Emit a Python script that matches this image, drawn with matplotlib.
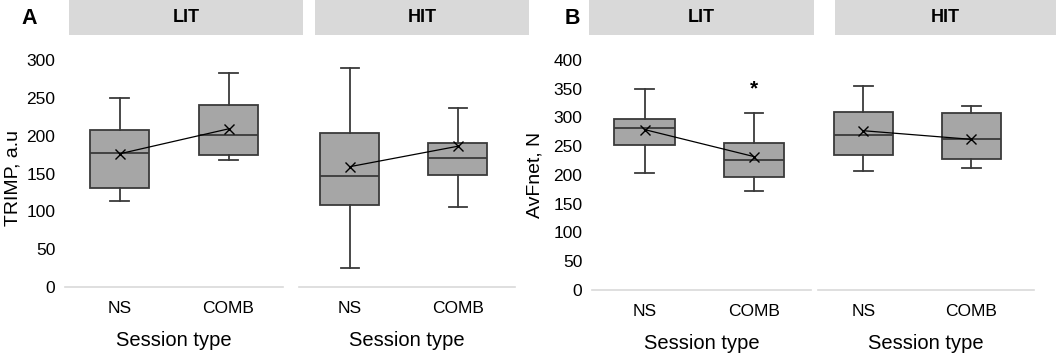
import matplotlib.pyplot as plt
from matplotlib.patches import Rectangle

plt.rcParams['font.family'] = ['Liberation Sans', 'DejaVu Sans']

# session types on x axis
sessions = ['NS', 'COMB']

# box summaries: [whislo, q1, median, q3, whishi]
trimp_lit = [[113, 131, 177, 208, 250], [168, 174, 201, 240, 283]]
trimp_hit = [[25, 108, 147, 203, 290], [106, 148, 171, 190, 237]]
trimp_lit_mean = [176, 209]
trimp_hit_mean = [159, 186]

force_lit = [[203, 252, 281, 297, 350], [173, 197, 226, 255, 307]]
force_hit = [[207, 235, 270, 310, 355], [212, 227, 262, 307, 320]]
force_lit_mean = [279, 232]
force_hit_mean = [277, 262]
force_star_y = 350

W, H = 1056, 354
fig = plt.figure(figsize=(W / 100, H / 100), dpi=100)


def px_axes(x0, x1, ytop, ybot):
    return fig.add_axes([x0 / W, 1 - ybot / H, (x1 - x0) / W, (ybot - ytop) / H])


def draw_panel(ax, boxes, means, ymax, ystep, show_y, xshift=0.0):
    stats = []
    for b, m in zip(boxes, means):
        stats.append(dict(whislo=b[0], q1=b[1], med=b[2], q3=b[3], whishi=b[4], mean=m))
    ax.bxp(stats, positions=[0, 1], widths=0.55, patch_artist=True, showfliers=False,
           boxprops=dict(facecolor='#a6a6a6', edgecolor='#3a3a3a', linewidth=1.3),
           medianprops=dict(color='#3a3a3a', linewidth=1.3),
           whiskerprops=dict(color='#3a3a3a', linewidth=1.3),
           capprops=dict(color='#3a3a3a', linewidth=1.3),
           capwidths=0.17)
    ax.plot([0, 1], means, color='black', linewidth=0.9, marker='x',
            markersize=7, markeredgewidth=1.0, zorder=5)
    ax.set_xlim(-0.5 + xshift, 1.5 + xshift)
    ax.set_ylim(0, ymax)
    ax.set_xticks([0, 1])
    ax.set_xticklabels(sessions, fontsize=12.5)
    ax.set_yticks(range(0, ymax + 1, ystep))
    ax.tick_params(axis='y', length=0, pad=7, labelsize=12.5)
    ax.tick_params(axis='x', length=0, pad=10)
    if not show_y:
        ax.set_yticklabels([])
    for s in ['top', 'right', 'left']:
        ax.spines[s].set_visible(False)
    ax.spines['bottom'].set_color('#d9d9d9')
    ax.spines['bottom'].set_linewidth(1.2)
    ax.set_xlabel('Session type', fontsize=14.5, labelpad=11)


axA1 = px_axes(65, 283, 60, 287)
draw_panel(axA1, trimp_lit, trimp_lit_mean, 300, 50, True)
axA1.set_ylabel('TRIMP, a.u', fontsize=14)
axA1.yaxis.set_label_coords((22 - 65) / 218, 0.48)

axA2 = px_axes(299, 515, 60, 287)
draw_panel(axA2, trimp_hit, trimp_hit_mean, 300, 50, False, 0.03)

axB1 = px_axes(592, 811, 60, 290)
draw_panel(axB1, force_lit, force_lit_mean, 400, 50, True, 0.02)
axB1.set_ylabel('AvFnet, N', fontsize=14)
axB1.yaxis.set_label_coords((544 - 592) / 219, 0.5)
axB1.text(1, force_star_y, '*', ha='center', va='center', fontsize=15, fontweight='bold')

axB2 = px_axes(818, 1034, 60, 290)
draw_panel(axB2, force_hit, force_hit_mean, 400, 50, False, 0.08)

# header strips
strips = [(69, 303, 'LIT'), (315, 529, 'HIT'), (589, 814, 'LIT'), (835, 1056, 'HIT')]
for x0, x1, lab in strips:
    fig.patches.append(Rectangle((x0 / W, 1 - 35 / H), (x1 - x0) / W, 35 / H,
                                 transform=fig.transFigure, facecolor='#d9d9d9',
                                 edgecolor='none'))
    fig.text((x0 + x1) / 2 / W, 1 - 18 / H, lab, ha='center', va='center',
             fontsize=13, fontweight='bold')

fig.text(29 / W, 1 - 19 / H, 'A', ha='center', va='center', fontsize=15.5, fontweight='bold')
fig.text(572 / W, 1 - 19 / H, 'B', ha='center', va='center', fontsize=15.5, fontweight='bold')

fig.savefig('out.png', dpi=100)
